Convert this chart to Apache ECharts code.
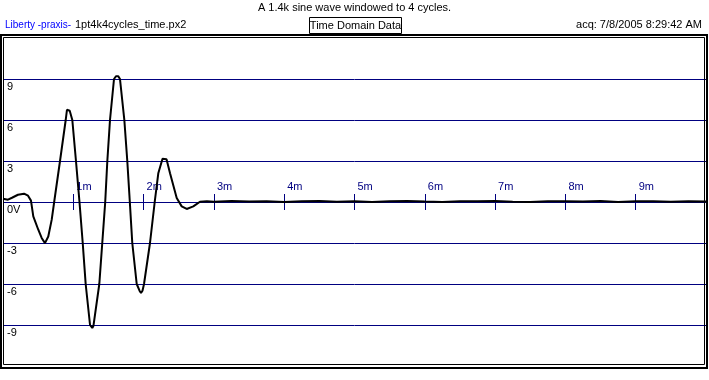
<!DOCTYPE html>
<html>
<head>
<meta charset="utf-8">
<script src="https://cdn.jsdelivr.net/npm/echarts@6/dist/echarts.min.js"></script>
<style>
html,body{margin:0;padding:0;background:#fff;}
#chart{width:709px;height:380px;}
</style>
</head>
<body>
<div id="chart"></div>
<script>
// Time in milliseconds
var timeMs = [0.000,0.071,0.128,0.213,0.299,0.356,0.398,0.431,0.502,0.550,0.597,0.644,0.693,0.728,0.811,0.892,0.910,0.929,0.949,0.986,
  1.038,1.088,1.134,1.176,1.238,1.252,1.270,1.287,1.299,1.370,1.412,1.454,1.484,1.522,1.579,1.607,1.622,1.640,1.664,1.726,
  1.768,1.804,1.839,1.902,1.942,1.963,1.984,2.006,2.091,2.158,2.209,2.269,2.294,2.326,2.376,2.471,2.542,2.613,2.707,2.802,
  2.90,3.00,3.25,3.50,3.75,4.00,4.25,4.50,4.75,5.00,5.25,5.50,5.75,6.00,6.25,6.50,6.75,7.00,7.25,7.50,7.75,8.00,8.25,8.50,8.75,9.00,9.25,9.50,9.75,10.00];
// Voltage in volts
var voltage = [0.24,0.17,0.31,0.53,0.61,0.46,0.10,-1.05,-2.03,-2.63,-3.01,-2.52,-1.29,0,3,6,6.75,6.88,6.68,6,
  3,0,-3,-6,-9,-9.05,-9.22,-9.05,-9,-6,-3,0,3,6,9,9.2,9.31,9.2,9,6,
  3,0,-3,-6,-6.49,-6.66,-6.49,-6,-3,0,2.1,3.17,3.29,3.13,2.1,0.3,-0.32,-0.51,-0.32,0.02,
  0.05,0.02,0.07,0.03,0.06,0.0,0.05,0.07,0.02,0.06,0.0,0.05,0.07,0.03,0.0,0.06,0.05,0.07,0.02,0.0,0.06,0.05,0.03,0.07,0.0,0.05,0.06,0.02,0.05,0.03];
var xTickLabels = ['', '1m', '2m', '3m', '4m', '5m', '6m', '7m', '8m', '9m', ''];
var yTickValues = [-9, -6, -3, 0, 3, 6, 9];
var yTickLabels = ['-9', '-6', '-3', '0V', '3', '6', '9'];

var titleText = 'A 1.4k sine wave windowed to 4 cycles.';
var brandText = 'Liberty -praxis-';
var fileText = '1pt4k4cycles_time.px2';
var boxText = 'Time Domain Data';
var acqText = 'acq: 7/8/2005 8:29:42 AM';

var FONT = '"Liberation Sans", Arial, sans-serif';
var NAVY = '#000080';

var chart = echarts.init(document.getElementById('chart'), null, {renderer: 'canvas'});
var data = timeMs.map(function (t, i) { return [t, voltage[i]]; });

function yLabel(v) {
  var i = yTickValues.indexOf(v);
  return i >= 0 ? yTickLabels[i] : '';
}

var hiddenY = function (gi) {
  return {type: 'value', gridIndex: gi, min: 0, max: 1, show: false};
};

var option = {
  animation: false,
  backgroundColor: '#ffffff',
  grid: [
    {left: 3, top: 38, width: 703, height: 328, containLabel: false},
    {left: 3, top: 38, width: 703, height: 164, containLabel: false},
    {left: 3, top: 202, width: 703, height: 164, containLabel: false}
  ],
  xAxis: [{
    type: 'value', gridIndex: 0, min: 0, max: 10, interval: 1,
    axisLine: {show: false, onZero: false}, axisTick: {show: false}, axisLabel: {show: false}, splitLine: {show: false}
  }, {
    type: 'value', gridIndex: 1, min: 0, max: 10, interval: 1, position: 'bottom',
    axisLine: {show: false, onZero: false},
    axisTick: {show: true, inside: true, length: 8, lineStyle: {color: NAVY, width: 1}},
    axisLabel: {
      inside: true, margin: 10, align: 'left', verticalAlign: 'bottom', padding: [0, 0, 0, 3],
      color: NAVY, fontFamily: FONT, fontSize: 11,
      formatter: function (v) { return xTickLabels[Math.round(v)] || ''; }
    },
    splitLine: {show: false}
  }, {
    type: 'value', gridIndex: 2, min: 0, max: 10, interval: 1, position: 'top',
    axisLine: {show: false, onZero: false},
    axisTick: {show: true, inside: true, length: 8, lineStyle: {color: NAVY, width: 1}},
    axisLabel: {show: false},
    splitLine: {show: false}
  }],
  yAxis: [{
    type: 'value', gridIndex: 0, min: -12, max: 12, interval: 3,
    axisLine: {show: false},
    axisTick: {show: false},
    axisLabel: {
      inside: true, margin: 4, align: 'left', verticalAlign: 'top', padding: [2, 0, 0, 0],
      color: '#000', fontFamily: FONT, fontSize: 11,
      formatter: function (v) { return yLabel(v); }
    },
    splitLine: {show: true, lineStyle: {color: ['transparent', NAVY, NAVY, NAVY, NAVY, NAVY, NAVY, NAVY], width: 1}}
  }, hiddenY(1), hiddenY(2)],
  series: [{
    type: 'line', xAxisIndex: 0, yAxisIndex: 0, data: data, showSymbol: false, symbol: 'none',
    lineStyle: {color: '#000', width: 2}, smooth: false, z: 5
  }],
  graphic: [
    {type: 'text', left: 'center', top: 2, style: {text: titleText, font: '11px ' + FONT, fill: '#000'}},
    {type: 'text', x: 5, y: 25, style: {text: brandText, font: '10px ' + FONT, fill: '#0000FF', verticalAlign: 'middle', align: 'left'}},
    {type: 'text', x: 75, y: 25, style: {text: fileText, font: '11px ' + FONT, fill: '#000', verticalAlign: 'middle', align: 'left'}},
    {type: 'rect', shape: {x: 309.5, y: 17.5, width: 92, height: 16}, style: {fill: 'none', stroke: '#000', lineWidth: 1}},
    {type: 'text', x: 355.5, y: 25.5, style: {text: boxText, font: '11px ' + FONT, fill: '#000', verticalAlign: 'middle', align: 'center'}},
    {type: 'text', x: 702, y: 25, style: {text: acqText, font: '11px ' + FONT, fill: '#000', verticalAlign: 'middle', align: 'right'}},
    {type: 'rect', shape: {x: 1, y: 35, width: 706, height: 333}, style: {fill: 'none', stroke: '#000', lineWidth: 2}, z: 100},
    {type: 'rect', shape: {x: 3.5, y: 37.5, width: 701, height: 327}, style: {fill: 'none', stroke: '#000', lineWidth: 1}, z: 100}
  ]
};
chart.setOption(option);
</script>
</body>
</html>
